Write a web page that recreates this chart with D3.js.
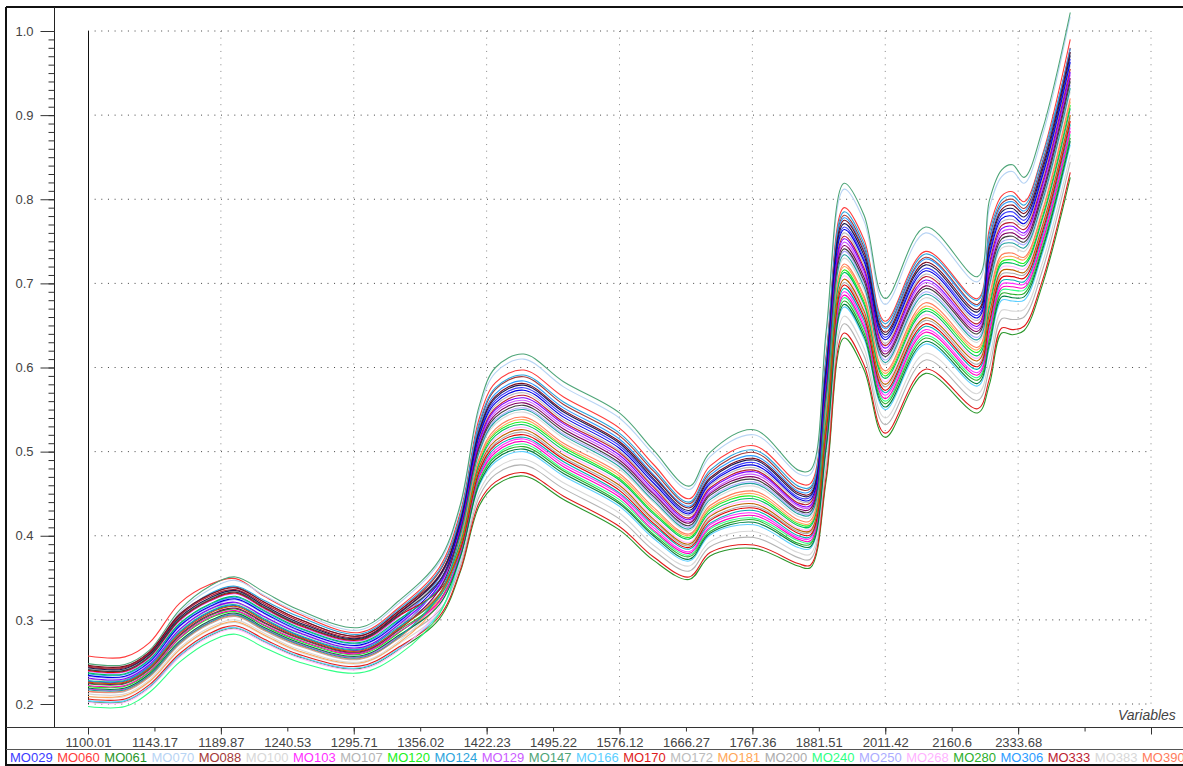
<!DOCTYPE html>
<html>
<head>
<meta charset="utf-8">
<script src="https://cdn.jsdelivr.net/npm/d3@7"></script>
<style>
  html, body { margin: 0; padding: 0; background: #fff; overflow: hidden; }
  svg { display: block; font-family: "Liberation Sans", Arial, sans-serif; }
  .axis text { fill: #444; font-size: 13px; font-family: "Liberation Sans", Arial, sans-serif; }
  .axis line { stroke: #333; }
  .axis .domain { display: none; }
</style>
</head>
<body>
<div id="chart"></div>
<script>
// x axis labels as printed (the last two ticks have no label)
var xTicks = [1100.01, 1143.17, 1189.87, 1240.53, 1295.71, 1356.02, 1422.23, 1495.22, 1576.12, 1666.27, 1767.36, 1881.51, 2011.42, 2160.6, 2333.68, 2538, 2780];
var yMajor = [0.2, 0.3, 0.4, 0.5, 0.6, 0.7, 0.8, 0.9, 1.0];

// wavelengths the curves were read at
var wavelengths = [1100, 1124, 1140, 1161, 1182, 1201, 1223, 1250, 1301, 1337, 1375, 1396, 1415, 1432, 1463, 1508, 1576, 1622, 1671, 1703, 1770, 1846, 1867, 1896, 1931, 1970, 2011, 2102, 2228, 2259, 2291, 2319, 2352, 2408, 2494];

// spectra: outer lines, lines inside the dense band are estimates of their position in it
var mo029 = [.227,.227,.244,.285,.309,.317,.300,.281,.264,.291,.342,.415,.521,.561,.576,.544,.507,.466,.428,.464,.487,.446,.446,.594,.767,.729,.636,.718,.662,.737,.781,.785,.775,.830,.967];
var mo060 = [.257,.256,.273,.320,.342,.349,.328,.307,.285,.315,.362,.428,.540,.582,.597,.565,.528,.485,.444,.483,.507,.463,.462,.616,.790,.752,.655,.738,.682,.765,.804,.809,.797,.852,.990];
var mo061 = [.203,.203,.220,.257,.281,.290,.274,.256,.242,.265,.301,.357,.436,.460,.471,.443,.407,.371,.348,.376,.385,.364,.362,.466,.635,.597,.517,.593,.546,.580,.641,.639,.644,.698,.826];
var mo070 = [.244,.243,.261,.309,.336,.347,.329,.309,.288,.320,.368,.434,.550,.594,.610,.577,.540,.497,.455,.494,.520,.474,.473,.637,.812,.774,.675,.760,.702,.790,.827,.833,.819,.875,1.017];
var mo088 = [.245,.244,.261,.306,.330,.339,.321,.301,.281,.311,.357,.422,.532,.574,.589,.556,.519,.477,.438,.475,.499,.456,.456,.610,.781,.743,.648,.731,.675,.754,.795,.800,.789,.844,.980];
var mo100 = [.209,.209,.226,.264,.288,.297,.281,.262,.248,.272,.309,.368,.453,.480,.491,.463,.427,.389,.364,.393,.405,.380,.378,.491,.661,.623,.540,.617,.569,.611,.668,.667,.669,.724,.853];
var mo103 = [.218,.218,.235,.274,.298,.307,.290,.272,.256,.281,.321,.381,.472,.502,.515,.485,.449,.410,.381,.413,.427,.398,.397,.519,.690,.652,.567,.645,.594,.646,.699,.700,.699,.753,.885];
var mo107 = [.215,.215,.232,.271,.295,.304,.287,.269,.253,.278,.311,.364,.447,.473,.484,.456,.420,.383,.358,.387,.398,.374,.372,.482,.652,.614,.532,.609,.561,.600,.658,.657,.660,.715,.844];
var mo120 = [.221,.221,.238,.278,.302,.310,.293,.275,.259,.285,.327,.392,.488,.522,.535,.505,.468,.428,.398,.431,.447,.414,.413,.544,.716,.678,.590,.670,.618,.677,.726,.728,.724,.779,.912];
var mo124 = [.241,.240,.258,.305,.331,.340,.323,.304,.283,.313,.359,.424,.535,.576,.591,.559,.522,.480,.440,.478,.502,.459,.458,.612,.785,.747,.652,.735,.680,.760,.799,.804,.793,.850,.975];
var mo129 = [.239,.238,.255,.299,.322,.331,.313,.293,.275,.304,.346,.406,.509,.547,.561,.530,.493,.452,.417,.452,.473,.435,.434,.577,.749,.711,.619,.701,.646,.715,.761,.764,.757,.812,.948];
var mo147 = [.248,.247,.264,.312,.340,.351,.333,.312,.291,.323,.371,.437,.555,.600,.616,.583,.546,.502,.459,.499,.526,.478,.478,.644,.819,.781,.682,.767,.708,.799,.835,.841,.826,.882,1.022];
var mo166 = [.204,.204,.221,.258,.282,.291,.275,.257,.243,.266,.308,.373,.460,.488,.500,.471,.435,.397,.370,.401,.413,.386,.385,.502,.672,.634,.550,.628,.578,.624,.680,.679,.680,.735,.865];
var mo170 = [.206,.206,.223,.260,.284,.293,.277,.259,.245,.268,.304,.359,.440,.464,.475,.447,.411,.375,.351,.380,.389,.367,.365,.471,.641,.603,.522,.598,.551,.587,.647,.645,.649,.703,.832];
var mo172 = [.242,.241,.258,.302,.325,.334,.316,.296,.277,.307,.350,.411,.517,.555,.570,.538,.501,.460,.424,.460,.481,.442,.441,.587,.760,.722,.629,.711,.656,.729,.773,.776,.768,.823,.959];
var mo181 = [.209,.210,.227,.265,.289,.298,.282,.263,.249,.273,.321,.394,.491,.524,.538,.507,.471,.431,.400,.433,.450,.416,.415,.548,.720,.682,.593,.673,.621,.681,.730,.732,.728,.783,.916];
var mo200 = [.230,.229,.246,.288,.312,.320,.303,.284,.266,.294,.331,.386,.479,.510,.523,.493,.457,.418,.388,.420,.435,.405,.404,.530,.701,.663,.577,.656,.604,.660,.711,.712,.710,.764,.897];
var mo240 = [.197,.197,.214,.250,.274,.283,.267,.250,.237,.259,.307,.378,.467,.496,.509,.479,.443,.405,.377,.408,.421,.394,.392,.512,.683,.645,.560,.638,.588,.637,.692,.692,.692,.746,.877];
var mo250 = [.233,.232,.249,.292,.315,.324,.307,.287,.269,.297,.339,.402,.502,.538,.552,.521,.485,.445,.410,.445,.464,.428,.427,.566,.738,.700,.609,.690,.636,.703,.749,.752,.746,.801,.936];
var mo268 = [.202,.202,.219,.256,.280,.289,.273,.255,.241,.264,.315,.389,.484,.516,.529,.499,.463,.423,.392,.425,.441,.409,.408,.537,.709,.671,.583,.663,.611,.668,.719,.720,.717,.772,.904];
var mo280 = [.224,.224,.241,.281,.305,.313,.296,.278,.261,.288,.323,.376,.465,.494,.506,.477,.440,.402,.375,.405,.419,.391,.390,.509,.679,.641,.557,.635,.585,.633,.688,.687,.688,.742,.873];
var mo306 = [.236,.235,.252,.295,.318,.327,.310,.290,.272,.300,.350,.419,.529,.569,.584,.552,.515,.473,.435,.472,.495,.453,.453,.604,.778,.740,.646,.729,.673,.751,.792,.797,.786,.841,.979];
var mo333 = [.244,.243,.260,.305,.328,.336,.319,.299,.279,.309,.351,.410,.514,.552,.567,.535,.499,.458,.421,.457,.478,.439,.439,.584,.756,.718,.626,.708,.652,.724,.769,.772,.764,.819,.955];
var mo383 = [.212,.212,.229,.267,.291,.300,.284,.265,.250,.275,.325,.399,.498,.533,.547,.516,.479,.440,.406,.440,.459,.423,.422,.559,.730,.692,.603,.683,.630,.694,.742,.744,.738,.793,.928];
var mo390 = [.215,.216,.233,.272,.296,.305,.288,.270,.254,.279,.326,.395,.493,.527,.541,.510,.474,.434,.402,.436,.453,.419,.418,.551,.723,.685,.596,.677,.624,.686,.734,.736,.731,.786,.920];
var extra01 = [.246,.245,.262,.307,.330,.338,.321,.301,.281,.311,.353,.418,.526,.566,.581,.549,.512,.471,.433,.469,.492,.451,.450,.601,.775,.737,.642,.725,.669,.746,.788,.793,.783,.838,.975];
var extra02 = [.243,.242,.259,.303,.326,.335,.317,.297,.278,.308,.352,.416,.524,.564,.579,.547,.510,.468,.430,.467,.490,.449,.448,.598,.771,.733,.639,.722,.666,.742,.785,.789,.779,.834,.971];
var extra03 = [.234,.233,.250,.293,.316,.325,.308,.288,.270,.298,.345,.413,.519,.558,.573,.541,.504,.463,.426,.462,.484,.444,.443,.591,.764,.726,.633,.715,.659,.733,.777,.780,.771,.827,.963];
var extra04 = [.222,.222,.239,.279,.303,.311,.294,.276,.260,.286,.322,.379,.470,.499,.512,.482,.446,.407,.379,.410,.424,.396,.394,.516,.686,.648,.563,.642,.591,.642,.695,.696,.695,.749,.881];
var extra05 = [.228,.228,.245,.286,.310,.318,.301,.282,.265,.292,.327,.383,.474,.505,.517,.488,.451,.413,.384,.415,.430,.400,.399,.523,.694,.656,.570,.649,.598,.651,.703,.704,.702,.757,.889];
var extra06 = [.219,.219,.236,.275,.299,.308,.291,.273,.257,.282,.318,.375,.462,.491,.503,.474,.438,.400,.372,.403,.416,.389,.387,.505,.675,.637,.553,.631,.581,.628,.684,.683,.684,.739,.869];
var extra07 = [.231,.230,.247,.289,.313,.321,.304,.285,.267,.295,.341,.408,.512,.550,.564,.533,.496,.455,.419,.455,.476,.437,.436,.580,.753,.715,.623,.704,.649,.720,.765,.768,.760,.816,.951];
var extra08 = [.240,.239,.256,.300,.323,.332,.314,.294,.276,.305,.335,.384,.477,.508,.520,.491,.454,.415,.386,.418,.433,.403,.401,.526,.698,.660,.573,.652,.601,.655,.707,.708,.706,.761,.893];
var extra09 = [.237,.236,.253,.296,.319,.328,.311,.291,.273,.301,.337,.391,.486,.519,.532,.502,.466,.426,.396,.428,.444,.412,.411,.540,.713,.675,.587,.667,.614,.672,.723,.724,.721,.776,.908];
var extra10 = [.225,.225,.242,.282,.306,.314,.297,.279,.262,.289,.336,.405,.507,.544,.558,.527,.490,.450,.415,.450,.470,.432,.432,.573,.745,.707,.616,.697,.643,.711,.757,.760,.753,.808,.944];
var extra11 = [.241,.240,.257,.301,.324,.333,.315,.295,.277,.306,.346,.403,.505,.541,.555,.524,.487,.447,.412,.448,.467,.430,.429,.569,.741,.703,.613,.694,.640,.707,.753,.756,.749,.804,.940];
var extra12 = [.217,.217,.234,.273,.297,.306,.289,.271,.255,.280,.330,.400,.500,.536,.550,.519,.482,.442,.408,.443,.462,.426,.425,.562,.734,.696,.606,.687,.633,.698,.746,.748,.742,.797,.932];
var extra13 = [.226,.226,.243,.284,.308,.316,.299,.280,.263,.290,.330,.387,.482,.513,.526,.496,.460,.420,.390,.423,.438,.407,.406,.533,.705,.667,.580,.659,.608,.664,.715,.716,.713,.768,.900];

// legend, in printed order
var legendNames = ["MO029", "MO060", "MO061", "MO070", "MO088", "MO100", "MO103", "MO107", "MO120", "MO124", "MO129", "MO147", "MO166", "MO170", "MO172", "MO181", "MO200", "MO240", "MO250", "MO268", "MO280", "MO306", "MO333", "MO383", "MO390"];
var legendColors = ["#3c3cff", "#ff3c3c", "#2a962a", "#b8d4f4", "#a53a3a", "#d8d8d8", "#ff30ff", "#b4b4b4", "#20f020", "#2ca4dc", "#cc5cff", "#4ea578", "#5ccfff", "#e01c1c", "#bcbcbc", "#ffa658", "#acacac", "#30ff84", "#acacff", "#ffb4ff", "#2cae2c", "#2c9cff", "#bc1c30", "#d8d8d8", "#ff7c5c"];
var legendSeries = [mo029, mo060, mo061, mo070, mo088, mo100, mo103, mo107, mo120, mo124, mo129, mo147, mo166, mo170, mo172, mo181, mo200, mo240, mo250, mo268, mo280, mo306, mo333, mo383, mo390];

// lines that are drawn but fall outside the printed legend
var extraSeries = [extra01, extra02, extra03, extra04, extra05, extra06, extra07, extra08, extra09, extra10, extra11, extra12, extra13];
var extraColors = ["#7a0c20", "#1a1a50", "#0000e0", "#ff00c0", "#00b0b0", "#008040", "#8000ff", "#e00000", "#00c060", "#800060", "#404040", "#20a0a0", "#c06000"];

var width = 1183, height = 766;
var left = 88, right = 1151, top_ = 31, bottom = 704;
var frameX = 6, frameTop = 7, axisX = 54.5, axisY = 727.5, legendY = 749.5, frameBottom = 765;

var svg = d3.select("#chart").append("svg")
    .attr("width", width)
    .attr("height", height);

// the variable axis is evenly spaced per tick, not per nm
var step = (right - left) / (xTicks.length - 1);
var x = d3.scaleLinear().domain(xTicks).range(xTicks.map(function(d, i) { return left + i * step; }));
var y = d3.scaleLinear().domain([0.2, 1.0]).range([bottom, top_]);

var xMajor = xTicks.filter(function(d, i) { return i % 2 === 0; });

// dotted grid
svg.append("g").selectAll("line").data(yMajor).enter().append("line")
    .attr("x1", left).attr("x2", right)
    .attr("y1", function(d) { return y(d); }).attr("y2", function(d) { return y(d); })
    .attr("stroke", "#444").attr("stroke-dasharray", "1 5.65");
svg.append("g").selectAll("line").data(xMajor.slice(1)).enter().append("line")
    .attr("x1", function(d) { return x(d); }).attr("x2", function(d) { return x(d); })
    .attr("y1", top_).attr("y2", bottom)
    .attr("stroke", "#888").attr("stroke-dasharray", "1 5.65");

// frame and axis rules
svg.append("line").attr("x1", frameX).attr("x2", width).attr("y1", frameTop).attr("y2", frameTop).attr("stroke", "#111").attr("stroke-width", 2);
svg.append("line").attr("x1", frameX).attr("x2", frameX).attr("y1", frameTop).attr("y2", height).attr("stroke", "#111").attr("stroke-width", 2);
svg.append("line").attr("x1", frameX).attr("x2", width).attr("y1", frameBottom).attr("y2", frameBottom).attr("stroke", "#111").attr("stroke-width", 2);
svg.append("line").attr("x1", axisX).attr("x2", axisX).attr("y1", frameTop).attr("y2", axisY).attr("stroke", "#222");
svg.append("line").attr("x1", frameX).attr("x2", width).attr("y1", axisY).attr("y2", axisY).attr("stroke", "#333");
svg.append("line").attr("x1", frameX).attr("x2", width).attr("y1", legendY).attr("y2", legendY).attr("stroke", "#555");
svg.append("line").attr("x1", left + 0.5).attr("x2", left + 0.5).attr("y1", top_).attr("y2", bottom).attr("stroke", "#111");

// y axis: long ticks with labels, short ticks every 0.01
svg.append("g").attr("class", "axis").attr("transform", "translate(" + axisX + ",0)")
    .call(d3.axisLeft(y).ticks(80).tickSize(6).tickFormat(""));
svg.append("g").attr("class", "axis").attr("transform", "translate(" + axisX + ",0)")
    .call(d3.axisLeft(y).tickValues(yMajor).tickSize(14).tickPadding(7).tickFormat(d3.format(".1f")));

// x axis: every tick is labelled up to 2333.68
svg.append("g").attr("class", "axis").attr("transform", "translate(0," + axisY + ")")
    .call(d3.axisBottom(x).tickValues(xTicks).tickSize(4).tickPadding(6).tickFormat(function(d, i) { return i < 15 ? d : ""; }));
svg.append("g").attr("class", "axis").attr("transform", "translate(0," + axisY + ")")
    .call(d3.axisBottom(x).tickValues(xMajor).tickSize(7).tickFormat(""));

var line = d3.line()
    .x(function(d, i) { return x(wavelengths[i]); })
    .y(function(d) { return y(d); })
    .curve(d3.curveCatmullRom.alpha(0.5));

var allLines = legendSeries.map(function(s, i) { return { values: s, color: legendColors[i] }; })
    .concat(extraSeries.map(function(s, i) { return { values: s, color: extraColors[i] }; }));

svg.append("g").selectAll("path").data(allLines).enter().append("path")
    .attr("fill", "none")
    .attr("stroke", function(d) { return d.color; })
    .attr("stroke-width", 1.1)
    .attr("d", function(d) { return line(d.values); });

svg.append("text")
    .attr("x", 1118).attr("y", 720)
    .attr("fill", "#444").attr("font-size", 14).attr("font-style", "italic")
    .text("Variables");

// legend strip, clipped by the right edge like the original
var legendX = d3.scalePoint().domain(legendNames).range([10, 1142]);
svg.append("g").selectAll("text").data(legendNames).enter().append("text")
    .attr("x", function(d) { return legendX(d); })
    .attr("y", 762)
    .attr("font-size", 13)
    .attr("fill", function(d, i) { return legendColors[i]; })
    .text(function(d) { return d; });
</script>
</body>
</html>
